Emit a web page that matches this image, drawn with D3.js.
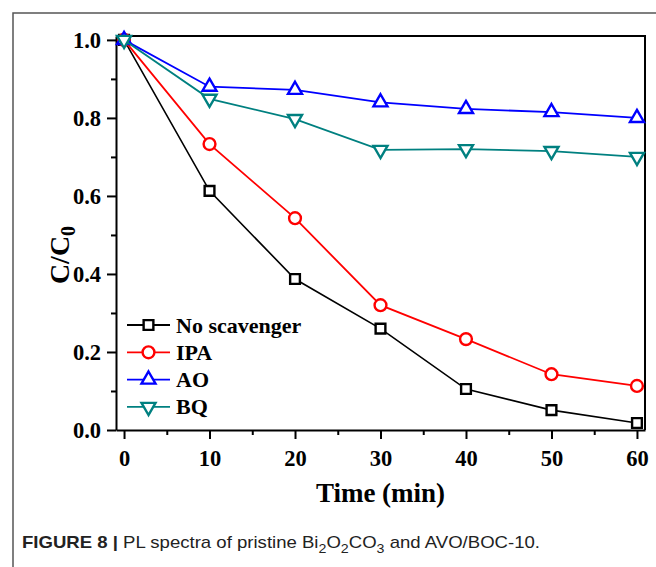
<!DOCTYPE html>
<html>
<head>
<meta charset="utf-8">
<script src="https://cdn.jsdelivr.net/npm/d3@7"></script>
<style>
  body { margin: 0; background: #fff; }
  svg { display: block; }
  .ax path, .ax line { stroke: #000; stroke-width: 2; }
  .ax text { font-family: "Liberation Serif", "Times New Roman", serif; font-weight: bold; font-size: 22.5px; fill: #000; }
</style>
</head>
<body>
<div id="chart"></div>
<script>
const times = [0, 10, 20, 30, 40, 50, 60];
const noScavenger = [1.0, 0.613, 0.387, 0.26, 0.105, 0.051, 0.018];
const ipa = [1.0, 0.733, 0.543, 0.32, 0.233, 0.143, 0.113];
const ao = [1.0, 0.88, 0.872, 0.84, 0.823, 0.815, 0.80];
const bq = [1.0, 0.849, 0.797, 0.718, 0.72, 0.715, 0.70];
const xTicks = [0, 10, 20, 30, 40, 50, 60];
const yTicks = [0.0, 0.2, 0.4, 0.6, 0.8, 1.0];

const series = [
  { name: 'No scavenger', values: noScavenger, color: '#000000', symbol: d3.symbolSquare, size: 95, rot: 0, width: 1.6 },
  { name: 'IPA', values: ipa, color: '#ff0000', symbol: d3.symbolCircle, size: 110, rot: 0, width: 1.8 },
  { name: 'AO', values: ao, color: '#0000ff', symbol: d3.symbolTriangle, size: 85, rot: 0, width: 1.8 },
  { name: 'BQ', values: bq, color: '#008080', symbol: d3.symbolTriangle, size: 85, rot: 180, width: 1.8 },
];

const W = 656, H = 567;
const plot = { left: 116, right: 645, top: 36, bottom: 430 };

const svg = d3.select('#chart').append('svg')
  .attr('width', W)
  .attr('height', H);

// outer frame of the figure panel
svg.append('path')
  .attr('d', `M13,${H} V13 H${W}`)
  .attr('fill', 'none')
  .attr('stroke', '#555')
  .attr('stroke-width', 1.5);

const x = d3.scaleLinear()
  .domain([-0.94, 60.94])
  .range([plot.left, plot.right]);

const y = d3.scaleLinear()
  .domain([0, 1.01])
  .range([plot.bottom, plot.top]);

// minor ticks
svg.append('g')
  .attr('class', 'ax')
  .attr('transform', `translate(0,${plot.bottom})`)
  .call(d3.axisBottom(x).tickValues(d3.range(5, 60, 10)).tickSize(5).tickFormat(''))
  .call(g => g.select('.domain').remove());

svg.append('g')
  .attr('class', 'ax')
  .attr('transform', `translate(${plot.left},0)`)
  .call(d3.axisLeft(y).tickValues(d3.range(0.1, 1.0, 0.2)).tickSize(5).tickFormat(''))
  .call(g => g.select('.domain').remove());

// major axes
svg.append('g')
  .attr('class', 'ax')
  .attr('transform', `translate(0,${plot.bottom})`)
  .call(d3.axisBottom(x).tickValues(xTicks).tickSize(9).tickSizeOuter(0).tickPadding(6).tickFormat(d3.format('d')))
  .call(g => g.selectAll('text').attr('dy', '0.95em'));

svg.append('g')
  .attr('class', 'ax')
  .attr('transform', `translate(${plot.left},0)`)
  .call(d3.axisLeft(y).tickValues(yTicks).tickSize(9).tickSizeOuter(0).tickPadding(6).tickFormat(d3.format('.1f')));

// top and right borders
svg.append('path')
  .attr('d', `M${plot.left},${plot.top} H${plot.right} V${plot.bottom}`)
  .attr('fill', 'none')
  .attr('stroke', '#000')
  .attr('stroke-width', 2);

const line = d3.line()
  .x((d, i) => x(times[i]))
  .y(d => y(d));

const sym = s => d3.symbol().type(s.symbol).size(s.size)();

series.forEach((s) => {
  svg.append('path')
    .datum(s.values)
    .attr('d', line)
    .attr('fill', 'none')
    .attr('stroke', s.color)
    .attr('stroke-width', s.width);

  svg.append('g').selectAll('path')
    .data(s.values)
    .join('path')
    .attr('d', sym(s))
    .attr('transform', (d, i) => `translate(${x(times[i])},${y(d)}) rotate(${s.rot})`)
    .attr('fill', '#fff')
    .attr('stroke', s.color)
    .attr('stroke-width', 2.4);
});

// legend
const legend = svg.append('g')
  .attr('transform', 'translate(127,325)');

series.forEach((s, i) => {
  const g = legend.append('g').attr('transform', `translate(0,${i * 27.3})`);
  g.append('line')
    .attr('x1', 0).attr('x2', 43)
    .attr('stroke', s.color)
    .attr('stroke-width', 1.8);
  g.append('path')
    .attr('d', sym(s))
    .attr('transform', `translate(21.5,0) rotate(${s.rot})`)
    .attr('fill', '#fff')
    .attr('stroke', s.color)
    .attr('stroke-width', 2.4);
  g.append('text')
    .attr('x', 49)
    .attr('y', 7.5)
    .attr('font-family', '"Liberation Serif", "Times New Roman", serif')
    .attr('font-weight', 'bold')
    .attr('font-size', 22)
    .text(s.name);
});

// axis titles
svg.append('text')
  .attr('x', (plot.left + plot.right) / 2)
  .attr('y', 502)
  .attr('text-anchor', 'middle')
  .attr('font-family', '"Liberation Serif", "Times New Roman", serif')
  .attr('font-weight', 'bold')
  .attr('font-size', 27)
  .text('Time (min)');

const yt = svg.append('text')
  .attr('transform', 'translate(69,255) rotate(-90)')
  .attr('text-anchor', 'middle')
  .attr('font-family', '"Liberation Serif", "Times New Roman", serif')
  .attr('font-weight', 'bold')
  .attr('font-size', 28);
yt.append('tspan').text('C/C');
yt.append('tspan').attr('dy', 6).attr('font-size', 20).text('0');

// caption
const cap = svg.append('text')
  .attr('x', 22)
  .attr('y', 548)
  .attr('font-family', '"Liberation Sans", Arial, sans-serif')
  .attr('font-size', 17)
  .attr('fill', '#222')
  .attr('textLength', 518)
  .attr('lengthAdjust', 'spacingAndGlyphs');
cap.append('tspan').attr('font-weight', 'bold').text('FIGURE 8 | ');
cap.append('tspan').text('PL spectra of pristine Bi');
cap.append('tspan').attr('dy', 5).attr('font-size', 13).text('2');
cap.append('tspan').attr('dy', -5).text('O');
cap.append('tspan').attr('dy', 5).attr('font-size', 13).text('2');
cap.append('tspan').attr('dy', -5).text('CO');
cap.append('tspan').attr('dy', 5).attr('font-size', 13).text('3');
cap.append('tspan').attr('dy', -5).text(' and AVO/BOC-10.');
</script>
</body>
</html>
